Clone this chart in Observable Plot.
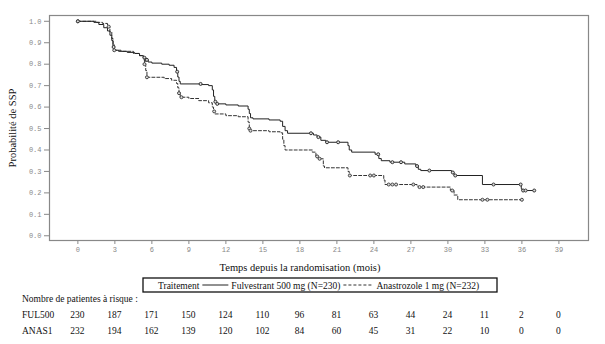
<!DOCTYPE html>
<html><head><meta charset="utf-8">
<script src="https://cdn.jsdelivr.net/npm/d3@7"></script>
<script src="https://cdn.jsdelivr.net/npm/@observablehq/plot@0.6"></script>
<style>body{margin:0;background:#fff} #chart{width:605px;height:344px}</style>
</head><body><div id="chart"></div>
<script>
// Kaplan-Meier step data (time in months, survival after event)
const fulTime = [0,1.3,1.7,2.1,2.4,2.6,2.75,2.85,2.95,3.3,4.0,4.6,5.0,5.3,5.5,5.7,6.0,6.8,7.4,7.8,8.0,8.1,8.2,8.3,10.0,10.6,10.9,11.0,11.1,11.2,12.0,13.0,13.8,13.9,14.0,14.2,15.5,16.4,16.6,16.8,17.0,19.1,19.4,19.7,20.1,21.9,22.0,22.2,24.1,24.4,24.6,25.3,26.5,27.4,27.6,27.8,30.3,30.5,32.8,35.95,36.0];
const fulSurv = [1.0,0.995,0.985,0.97,0.955,0.935,0.91,0.88,0.865,0.86,0.855,0.85,0.84,0.83,0.82,0.81,0.805,0.80,0.795,0.785,0.765,0.74,0.72,0.708,0.705,0.70,0.68,0.65,0.625,0.615,0.61,0.605,0.59,0.57,0.55,0.545,0.54,0.534,0.51,0.49,0.478,0.47,0.46,0.445,0.436,0.42,0.40,0.39,0.38,0.36,0.35,0.343,0.335,0.325,0.31,0.304,0.295,0.281,0.239,0.22,0.211];
const fulEnd = 37.0;
const fulCensor = [0,2.9,5.4,5.5,5.6,8.05,9.95,11.15,11.3,18.9,19.5,20.2,21.1,24.35,25.5,26.2,27.5,28.5,30.4,30.6,33.7,35.9,36.1,36.3,37.0];

const anaTime = [0,1.5,2.0,2.4,2.6,2.75,2.85,2.95,3.5,4.5,5.0,5.3,5.4,5.5,5.6,7.0,7.6,8.0,8.1,8.2,8.3,9.0,9.8,10.6,10.9,11.0,11.1,12.0,13.0,13.8,13.9,14.0,15.5,16.4,16.6,16.7,16.8,19.0,19.3,19.5,19.9,20.0,21.9,22.0,24.8,24.9,27.5,27.6,30.2,30.5,30.8];
const anaSurv = [1.0,0.995,0.99,0.975,0.95,0.92,0.89,0.865,0.86,0.85,0.84,0.83,0.80,0.77,0.739,0.733,0.725,0.71,0.69,0.665,0.646,0.64,0.63,0.62,0.60,0.58,0.568,0.56,0.555,0.53,0.50,0.49,0.485,0.48,0.45,0.42,0.40,0.39,0.37,0.359,0.325,0.317,0.30,0.281,0.26,0.239,0.232,0.227,0.211,0.19,0.168];
const anaEnd = 36.0;
const anaCensor = [0,2.5,2.95,5.4,5.6,8.2,8.4,11.05,13.9,14.0,19.4,19.6,22.05,23.7,24.0,25.2,25.5,25.8,27.2,27.7,28.0,30.35,32.8,33.2,36.0];

const riskTimes = [0,3,6,9,12,15,18,21,24,27,30,33,36,39];
const riskFUL = [230,187,171,150,124,110,96,81,63,44,24,11,2,0];
const riskANAS = [232,194,162,139,120,102,84,60,45,31,22,10,0,0];
const xTicks = [0,3,6,9,12,15,18,21,24,27,30,33,36,39];
const yTicks = [0,0.1,0.2,0.3,0.4,0.5,0.6,0.7,0.8,0.9,1.0];

const yLabel = "Probabilité de SSP";
const xLabel = "Temps depuis la randomisation (mois)";
const riskTitle = "Nombre de patientes à risque :";
const rowLabels = ["FUL500","ANAS1"];
const legendTitle = "Traitement";
const legendNames = ["Fulvestrant 500 mg (N=230)","Anastrozole 1 mg (N=232)"];

function curve(times, surv, end) {
  const pts = times.map((t,i)=>({t, s: surv[i]}));
  pts.push({t: end, s: surv[surv.length-1]});
  return pts;
}
function survAt(times, surv, t) {
  let s = surv[0];
  for (let i=0;i<times.length;i++) if (times[i] <= t) s = surv[i];
  return s;
}
const ful = curve(fulTime, fulSurv, fulEnd);
const ana = curve(anaTime, anaSurv, anaEnd);
const fulC = fulCensor.map(t=>({t, s: survAt(fulTime, fulSurv, t)}));
const anaC = anaCensor.map(t=>({t, s: survAt(anaTime, anaSurv, t)}));

const plot = Plot.plot({
  width:605, height:344, marginLeft:49, marginRight:17, marginTop:15, marginBottom:104,
  style:{fontFamily:"'Liberation Mono', 'DejaVu Sans Mono', monospace", fontSize:"7px", color:"#888", background:"white"},
  x:{domain:[-2.3,41.4], ticks:xTicks, tickFormat:d=>String(d), tickSize:4, tickPadding:3, label:null},
  y:{domain:[-0.022,1.027], ticks:yTicks, tickFormat:d3.format(".1f"), tickSize:5, tickPadding:3, label:null},
  marks:[
    Plot.frame({stroke:"#888", strokeWidth:1.2}),
    Plot.line(ana, {x:"t", y:"s", curve:"step-after", stroke:"#333", strokeWidth:1, strokeDasharray:"3,2"}),
    Plot.line(ful, {x:"t", y:"s", curve:"step-after", stroke:"#222", strokeWidth:1}),
    Plot.dot(anaC, {x:"t", y:"s", r:1.5, stroke:"#444", strokeWidth:1, fill:"#ddd"}),
    Plot.dot(fulC, {x:"t", y:"s", r:1.5, stroke:"#333", strokeWidth:1, fill:"#ddd"})
  ]
});
document.getElementById("chart").appendChild(plot);

const svg = d3.select(plot);
const xs = plot.scale("x");
const serif = "'Liberation Serif', 'DejaVu Serif', serif";

svg.append("text").attr("transform","translate(16,128) rotate(-90)")
  .attr("text-anchor","middle").attr("font-family",serif).attr("font-size",10.5).attr("fill","#111").text(yLabel);
svg.append("text").attr("x",300).attr("y",271)
  .attr("text-anchor","middle").attr("font-family",serif).attr("font-size",10.5).attr("fill","#111").text(xLabel);

// Legend box
svg.append("rect").attr("x",143).attr("y",278).attr("width",354).attr("height",14)
  .attr("fill","none").attr("stroke","#111").attr("stroke-width",1.3);
const lg = svg.append("g").attr("font-family",serif).attr("font-size",9.5).attr("fill","#111").attr("text-anchor","start");
let cx = 158; const by = 288.5;
const t1 = lg.append("text").attr("x",cx).attr("y",by).text(legendTitle);
cx += t1.node().getComputedTextLength() + 3;
lg.append("line").attr("x1",cx).attr("x2",cx+26).attr("y1",by-3.5).attr("y2",by-3.5).attr("stroke","#222").attr("stroke-width",1);
cx += 29;
const t2 = lg.append("text").attr("x",cx).attr("y",by).text(legendNames[0]);
cx += t2.node().getComputedTextLength() + 3;
lg.append("line").attr("x1",cx).attr("x2",cx+30).attr("y1",by-3.5).attr("y2",by-3.5).attr("stroke","#333").attr("stroke-width",1).attr("stroke-dasharray","3,2");
cx += 33;
lg.append("text").attr("x",cx).attr("y",by).text(legendNames[1]);

// Risk table
const rt = svg.append("g").attr("font-family",serif).attr("font-size",9.5).attr("fill","#111");
rt.append("text").attr("x",22).attr("y",302).attr("text-anchor","start").text(riskTitle);
[[riskFUL,318],[riskANAS,334]].forEach(([vals,yy],k)=>{
  rt.append("text").attr("x",22).attr("y",yy).attr("text-anchor","start").text(rowLabels[k]);
  vals.forEach((v,i)=>{
    rt.append("text").attr("x",xs.apply(riskTimes[i])).attr("y",yy).attr("text-anchor","middle").text(v);
  });
});
</script></body></html>
